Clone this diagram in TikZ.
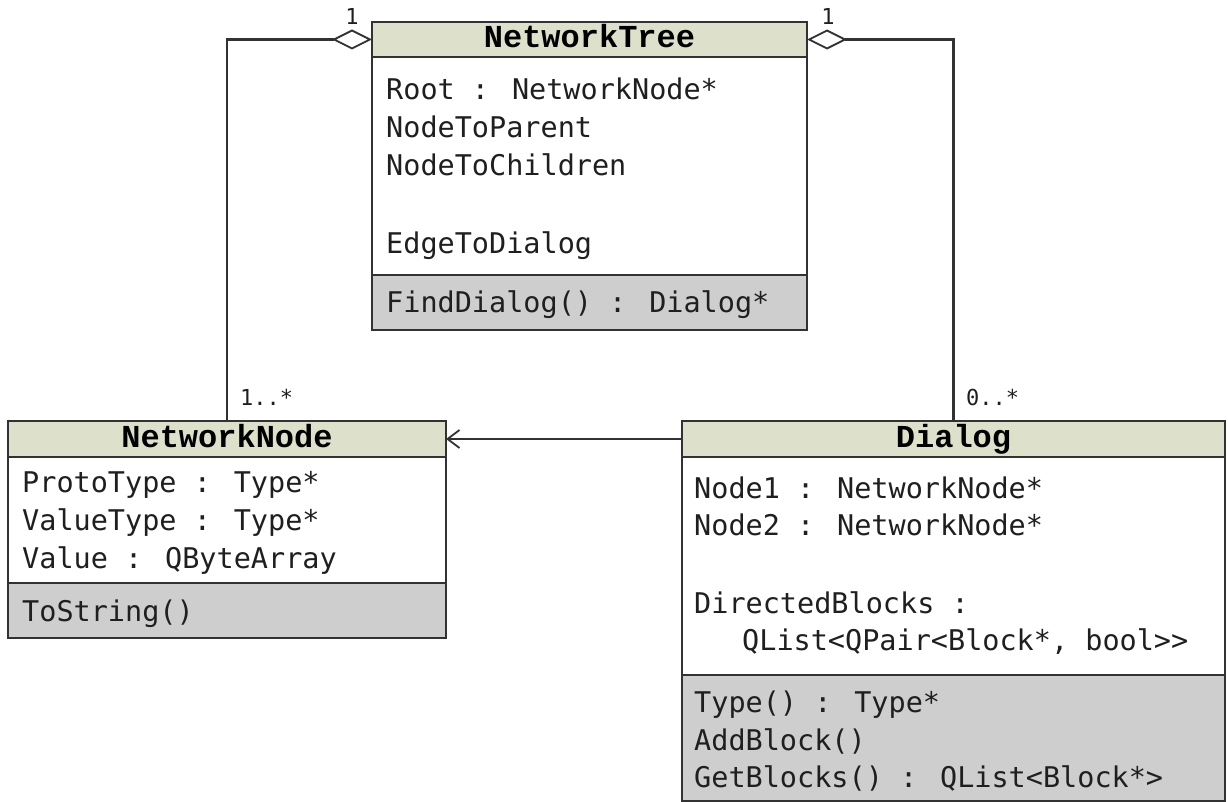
\documentclass[tikz,border=0pt]{standalone}
\usepackage{fontspec}
\usetikzlibrary{arrows.meta}
\newfontfamily\bodyfont{DejaVu Sans Mono}
\newfontfamily\headfont{Liberation Mono}
\definecolor{headfill}{RGB}{221,224,203}
\definecolor{opfill}{RGB}{206,206,206}
\definecolor{edge}{RGB}{50,50,50}
\tikzset{
  box/.style={draw=edge, line width=1.8pt, anchor=north west, inner sep=0pt, outer sep=0pt},
  classhead/.style={box, fill=headfill, minimum height=35pt, font=\headfont\bfseries\fontsize{32}{32}\selectfont,
    text height=22pt, text depth=5pt},
  attrbox/.style={box, fill=white},
  opbox/.style={box, fill=opfill},
  member/.style={anchor=base west, inner sep=0pt, text=black!88, font=\bodyfont\fontsize{28.5}{28.5}\selectfont},
  mult/.style={inner sep=0pt, text=black!88, font=\bodyfont\fontsize{22}{22}\selectfont},
  link/.style={draw=edge, line width=2.2pt},
  aggr/.style={link, {Diamond[open, fill=white, length=40pt, width=20pt, line width=1.8pt]}-},
  navig/.style={link, -{Straight Barb[length=12pt, width=18pt, line width=1.8pt]}}
}
\begin{document}
\begin{tikzpicture}[x=1pt, y=-1pt]
\useasboundingbox (0,0) rectangle (1228,802);

% NetworkTree
\node[classhead, minimum width=435pt] (treeT) at (372,22) {NetworkTree};
\node[attrbox, minimum width=435pt, minimum height=218pt] (treeA) at (372,57) {};
\node[opbox, minimum width=435pt, minimum height=55pt] (treeM) at (372,275) {};
\node[member] (t1) at (386,100) {Root : NetworkNode*};
\node[member] (t2) at (386,138) {NodeToParent};
\node[member] (t3) at (386,176) {NodeToChildren};
\node[member] (t4) at (386,254) {EdgeToDialog};
\node[member] (t5) at (386,312) {FindDialog() : Dialog*};

% NetworkNode
\node[classhead, minimum width=438pt, minimum height=36pt] (nodeT) at (8,421) {NetworkNode};
\node[attrbox, minimum width=438pt, minimum height=126pt] (nodeA) at (8,457) {};
\node[opbox, minimum width=438pt, minimum height=55pt] (nodeM) at (8,583) {};
\node[member] (n1) at (22,492) {ProtoType : Type*};
\node[member] (n2) at (22,530) {ValueType : Type*};
\node[member] (n3) at (22,568) {Value : QByteArray};
\node[member] (n4) at (22,621) {ToString()};

% Dialog
\node[classhead, minimum width=543pt, minimum height=36pt] (dlgT) at (682,421) {Dialog};
\node[attrbox, minimum width=543pt, minimum height=218pt] (dlgA) at (682,457) {};
\node[opbox, minimum width=543pt, minimum height=126pt] (dlgM) at (682,675) {};
\node[member] (d1) at (694,498) {Node1 : NetworkNode*};
\node[member] (d2) at (694,535) {Node2 : NetworkNode*};
\node[member] (d3) at (694,613) {DirectedBlocks :};
\node[member] (d4) at (742,650) {QList<QPair<Block*, bool>>};
\node[member] (d5) at (694,712) {Type() : Type*};
\node[member] (d6) at (694,750) {AddBlock()};
\node[member] (d7) at (694,787) {GetBlocks() : QList<Block*>};

% connectors
\draw[aggr] (treeT.west) -| (nodeT.north);
\draw[aggr] (treeT.east) -| (dlgT.north);
\draw[navig] (dlgT.west) -- (nodeT.east);

% multiplicities
\node[mult, anchor=base] (m1) at (352,25) {1};
\node[mult, anchor=base] (m2) at (828,25) {1};
\node[mult, anchor=base west] (m3) at (240,405) {1..*};
\node[mult, anchor=base west] (m4) at (966,405) {0..*};
\end{tikzpicture}
\end{document}
